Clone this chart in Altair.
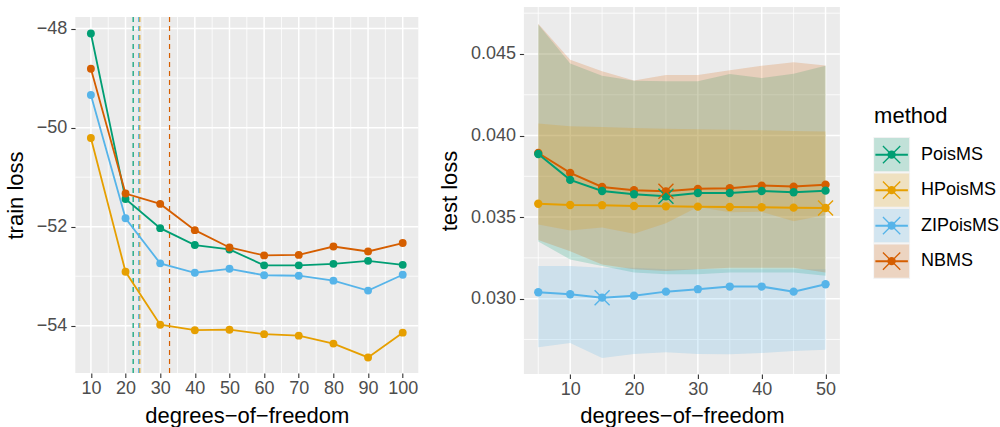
import altair as alt
import pandas as pd

FONT = "Liberation Sans"
methods = ["PoisMS", "HPoisMS", "ZIPoisMS", "NBMS"]
colors = ["#009E73", "#E69F00", "#56B4E9", "#D55E00"]

# ---------------- left panel: train loss ----------------
train_dof = [10, 20, 30, 40, 50, 60, 70, 80, 90, 100]
train_pois = [-48.10, -51.44, -52.03, -52.37, -52.46, -52.78, -52.78, -52.75, -52.69, -52.77]
train_hpois = [-50.21, -52.91, -53.98, -54.09, -54.08, -54.17, -54.20, -54.36, -54.64, -54.14]
train_zipois = [-49.34, -51.83, -52.74, -52.93, -52.85, -52.98, -52.99, -53.09, -53.29, -52.97]
train_nb = [-48.81, -51.33, -51.54, -52.07, -52.42, -52.58, -52.57, -52.40, -52.50, -52.33]
best_dof = [22.2, 24.1, 23.8, 32.7]

train_major_x = [10, 20, 30, 40, 50, 60, 70, 80, 90, 100]
train_minor_x = [15, 25, 35, 45, 55, 65, 75, 85, 95]
train_major_y = [-54, -52, -50, -48]
train_minor_y = [-53, -51, -49]

# ---------------- right panel: test loss ----------------
test_dof = [5, 10, 15, 20, 25, 30, 35, 40, 45, 50]
pois_mean = [0.03887, 0.03728, 0.03660, 0.03640, 0.03628, 0.03648, 0.03648, 0.03660, 0.03652, 0.03662]
hpois_mean = [0.03582, 0.03574, 0.03573, 0.03568, 0.03566, 0.03564, 0.03562, 0.03560, 0.03558, 0.03556]
zipois_mean = [0.03039, 0.03027, 0.03006, 0.03018, 0.03043, 0.03058, 0.03074, 0.03074, 0.03043, 0.03088]
nb_mean = [0.03893, 0.03771, 0.03685, 0.03665, 0.03658, 0.03673, 0.03677, 0.03693, 0.03687, 0.03699]

pois_lo = [0.0335, 0.0324, 0.0320, 0.0316, 0.0315, 0.0315, 0.0316, 0.0316, 0.0316, 0.0314]
pois_hi = [0.04680, 0.04441, 0.04367, 0.04336, 0.04333, 0.04333, 0.04377, 0.04353, 0.04379, 0.04428]
hpois_lo = [0.03454, 0.03417, 0.03436, 0.03398, 0.03462, 0.03562, 0.03530, 0.03532, 0.03474, 0.03513]
hpois_hi = [0.04073, 0.04057, 0.04053, 0.04046, 0.04042, 0.04038, 0.04036, 0.04032, 0.04028, 0.04024]
zipois_lo = [0.02702, 0.02728, 0.02636, 0.02661, 0.02671, 0.02661, 0.02659, 0.02667, 0.02679, 0.02686]
zipois_hi = [0.0320, 0.0320, 0.0319, 0.0319, 0.0318, 0.0318, 0.0318, 0.0318, 0.0318, 0.0318]
nb_lo = [0.0336, 0.0329, 0.0321, 0.0318, 0.0317, 0.0318, 0.0319, 0.0319, 0.0319, 0.0316]
nb_hi = [0.04685, 0.04465, 0.04394, 0.04338, 0.04371, 0.04371, 0.04400, 0.04428, 0.04449, 0.04430]

test_best_dof = [25, 50, 15, 25]

test_major_x = [10, 20, 30, 40, 50]
test_minor_x = [5, 15, 25, 35, 45]
test_major_y = [0.030, 0.035, 0.040, 0.045]
test_minor_y = [0.0275, 0.0325, 0.0375, 0.0425, 0.0475]

# ---------------- tables ----------------
train_series = [train_pois, train_hpois, train_zipois, train_nb]
train = pd.DataFrame([
    {"method": m, "dof": d, "loss": v}
    for m, vals in zip(methods, train_series) for d, v in zip(train_dof, vals)
])
best = pd.DataFrame({"method": methods, "dof": best_dof})

means = [pois_mean, hpois_mean, zipois_mean, nb_mean]
los = [pois_lo, hpois_lo, zipois_lo, nb_lo]
his = [pois_hi, hpois_hi, zipois_hi, nb_hi]
test_tables = {}
for m, mu, lo, hi in zip(methods, means, los, his):
    test_tables[m] = pd.DataFrame({"method": m, "dof": test_dof, "mean": mu, "lo": lo, "hi": hi})
test_best = pd.DataFrame([
    {"method": m, "dof": b, "mean": mu[test_dof.index(b)]}
    for m, b, mu in zip(methods, test_best_dof, means)
])

color = alt.Color("method:N", scale=alt.Scale(domain=methods, range=colors), legend=None)

axis_common = dict(
    grid=False, domain=False, tickColor="#333333", tickSize=4.5, tickWidth=1.1,
    labelColor="#4D4D4D", labelFont=FONT, labelFontSize=18, titleFont=FONT,
    titleFontSize=22, titleColor="black", titleFontWeight="normal",
)

xL_scale = alt.Scale(domain=[5.5, 104.5], nice=False, zero=False)
yL_scale = alt.Scale(domain=[-54.954, -47.766], nice=False, zero=False)
xL_axis = alt.Axis(values=train_major_x, format="d", title="degrees\u2212of\u2212freedom",
                   labelPadding=2, titlePadding=8, **axis_common)
yL_axis = alt.Axis(values=train_major_y, format="d", title="train loss",
                   labelPadding=4, titlePadding=9, **axis_common)


def xL(field="dof"):
    return alt.X(f"{field}:Q", scale=xL_scale, axis=xL_axis)


def yL(field="loss"):
    return alt.Y(f"{field}:Q", scale=yL_scale, axis=yL_axis)


gL_minor_x = alt.Chart(pd.DataFrame({"dof": train_minor_x})).mark_rule(color="white", strokeWidth=0.8).encode(x=xL())
gL_minor_y = alt.Chart(pd.DataFrame({"loss": train_minor_y})).mark_rule(color="white", strokeWidth=0.8).encode(y=yL())
gL_major_x = alt.Chart(pd.DataFrame({"dof": train_major_x})).mark_rule(color="white", strokeWidth=1.5).encode(x=xL())
gL_major_y = alt.Chart(pd.DataFrame({"loss": train_major_y})).mark_rule(color="white", strokeWidth=1.5).encode(y=yL())
vlines = alt.Chart(best).mark_rule(strokeDash=[5, 4], strokeWidth=1.2).encode(x=xL(), color=color)
linesL = alt.Chart(train).mark_line(strokeWidth=1.8).encode(x=xL(), y=yL(), color=color)
pointsL = alt.Chart(train).mark_circle(size=62, opacity=1).encode(x=xL(), y=yL(), color=color)

left_panel = alt.layer(gL_minor_x, gL_minor_y, gL_major_x, gL_major_y, vlines, linesL, pointsL).properties(
    width=343, height=356,
    view=alt.ViewBackground(fill="#EBEBEB", strokeWidth=0),
)
spacer = alt.Chart(pd.DataFrame({"s": [0]})).mark_point(opacity=0).encode(
    x=alt.value(0), y=alt.value(0)).properties(
    width=343, height=9, view=alt.ViewBackground(fill="white", strokeWidth=0))
left = alt.vconcat(spacer, left_panel, spacing=0)

# ---------------- right chart ----------------
xR_scale = alt.Scale(domain=[2.75, 52.25], nice=False, zero=False)
yR_scale = alt.Scale(domain=[0.02538, 0.04788], nice=False, zero=False)
xR_axis = alt.Axis(values=test_major_x, format="d", title="degrees\u2212of\u2212freedom",
                   labelPadding=2, titlePadding=7, **axis_common)
yR_axis = alt.Axis(values=test_major_y, format=".3f", title="test loss",
                   labelPadding=4, titlePadding=9, **axis_common)


def xR(field="dof"):
    return alt.X(f"{field}:Q", scale=xR_scale, axis=xR_axis)


def yR(field="mean"):
    return alt.Y(f"{field}:Q", scale=yR_scale, axis=yR_axis, stack=None)


gR_minor_x = alt.Chart(pd.DataFrame({"dof": test_minor_x})).mark_rule(color="white", strokeWidth=0.8).encode(x=xR())
gR_minor_y = alt.Chart(pd.DataFrame({"mean": test_minor_y})).mark_rule(color="white", strokeWidth=0.8).encode(y=yR())
gR_major_x = alt.Chart(pd.DataFrame({"dof": test_major_x})).mark_rule(color="white", strokeWidth=1.5).encode(x=xR())
gR_major_y = alt.Chart(pd.DataFrame({"mean": test_major_y})).mark_rule(color="white", strokeWidth=1.5).encode(y=yR())

ribbons = [
    alt.Chart(test_tables[m]).mark_area(opacity=0.2).encode(x=xR(), y=yR("lo"), y2="hi:Q", color=color)
    for m in methods
]
line_order = ["NBMS", "ZIPoisMS", "HPoisMS", "PoisMS"]
test_all = pd.concat([test_tables[m] for m in line_order], ignore_index=True)
linesR = alt.Chart(test_all).mark_line(strokeWidth=2).encode(x=xR(), y=yR(), color=color)
pointsR = alt.Chart(test_all).mark_circle(size=70, opacity=1).encode(x=xR(), y=yR(), color=color)
XSHAPE = "M-1,-1L1,1M-1,1L1,-1"
crossR = alt.Chart(test_best).mark_point(shape=XSHAPE, filled=False, size=225, strokeWidth=1.4, opacity=1).encode(
    x=xR(), y=yR(), color=color)

right = alt.layer(gR_minor_x, gR_minor_y, gR_major_x, gR_major_y, *ribbons, linesR, pointsR, crossR).properties(
    width=316, height=367,
    view=alt.ViewBackground(fill="#EBEBEB", strokeWidth=0),
)

# ---------------- legend ----------------
legend_df = pd.DataFrame({"method": methods, "idx": list(range(len(methods)))})
leg_scale = alt.Scale(domain=[-4.16, 6.18], reverse=True, nice=False, zero=False)
yLeg = alt.Y("idx:Q", scale=leg_scale, axis=None)
legbase = alt.Chart(legend_df)
leg_bg = legbase.mark_rect(color="#F2F2F2").transform_calculate(
    k0="datum.idx - 0.5", k1="datum.idx + 0.5").encode(
    x=alt.value(13.9), x2=alt.value(50.6), y=alt.Y("k0:Q", scale=leg_scale, axis=None), y2="k1:Q")
leg_key = legbase.mark_rect(opacity=0.2).transform_calculate(
    k0="datum.idx - 0.47", k1="datum.idx + 0.47").encode(
    x=alt.value(14.6), x2=alt.value(49.6), y=alt.Y("k0:Q", scale=leg_scale, axis=None), y2="k1:Q", color=color)
leg_line = legbase.mark_rule(strokeWidth=2).encode(x=alt.value(15.9), x2=alt.value(48.4), y=yLeg, color=color)
leg_pt = legbase.mark_circle(size=70, opacity=1).encode(x=alt.value(32.1), y=yLeg, color=color)
leg_x = legbase.mark_point(shape=XSHAPE, filled=False, size=300, strokeWidth=1.3, opacity=1).encode(
    x=alt.value(32.1), y=yLeg, color=color)
leg_txt = legbase.mark_text(align="left", baseline="middle", font=FONT, fontSize=18, color="black").encode(
    x=alt.value(61.6), y=yLeg, text="method:N")
leg_title = alt.Chart(pd.DataFrame({"t": ["method"]})).mark_text(
    align="left", baseline="middle", font=FONT, fontSize=22, color="black").encode(
    x=alt.value(14.6), y=alt.value(109), text="t:N")

legend = alt.layer(leg_bg, leg_key, leg_line, leg_pt, leg_x, leg_txt, leg_title).properties(
    width=138, height=367,
    view=alt.ViewBackground(fill="white", strokeWidth=0),
)

chart = alt.hconcat(left, right, legend, spacing=18.6).properties(
    padding={"left": 3.3, "top": 4, "right": 0, "bottom": 0},
    background="white",
).resolve_scale(color="shared")

chart.save("out.html", embed_options={"renderer": "svg", "actions": False})
